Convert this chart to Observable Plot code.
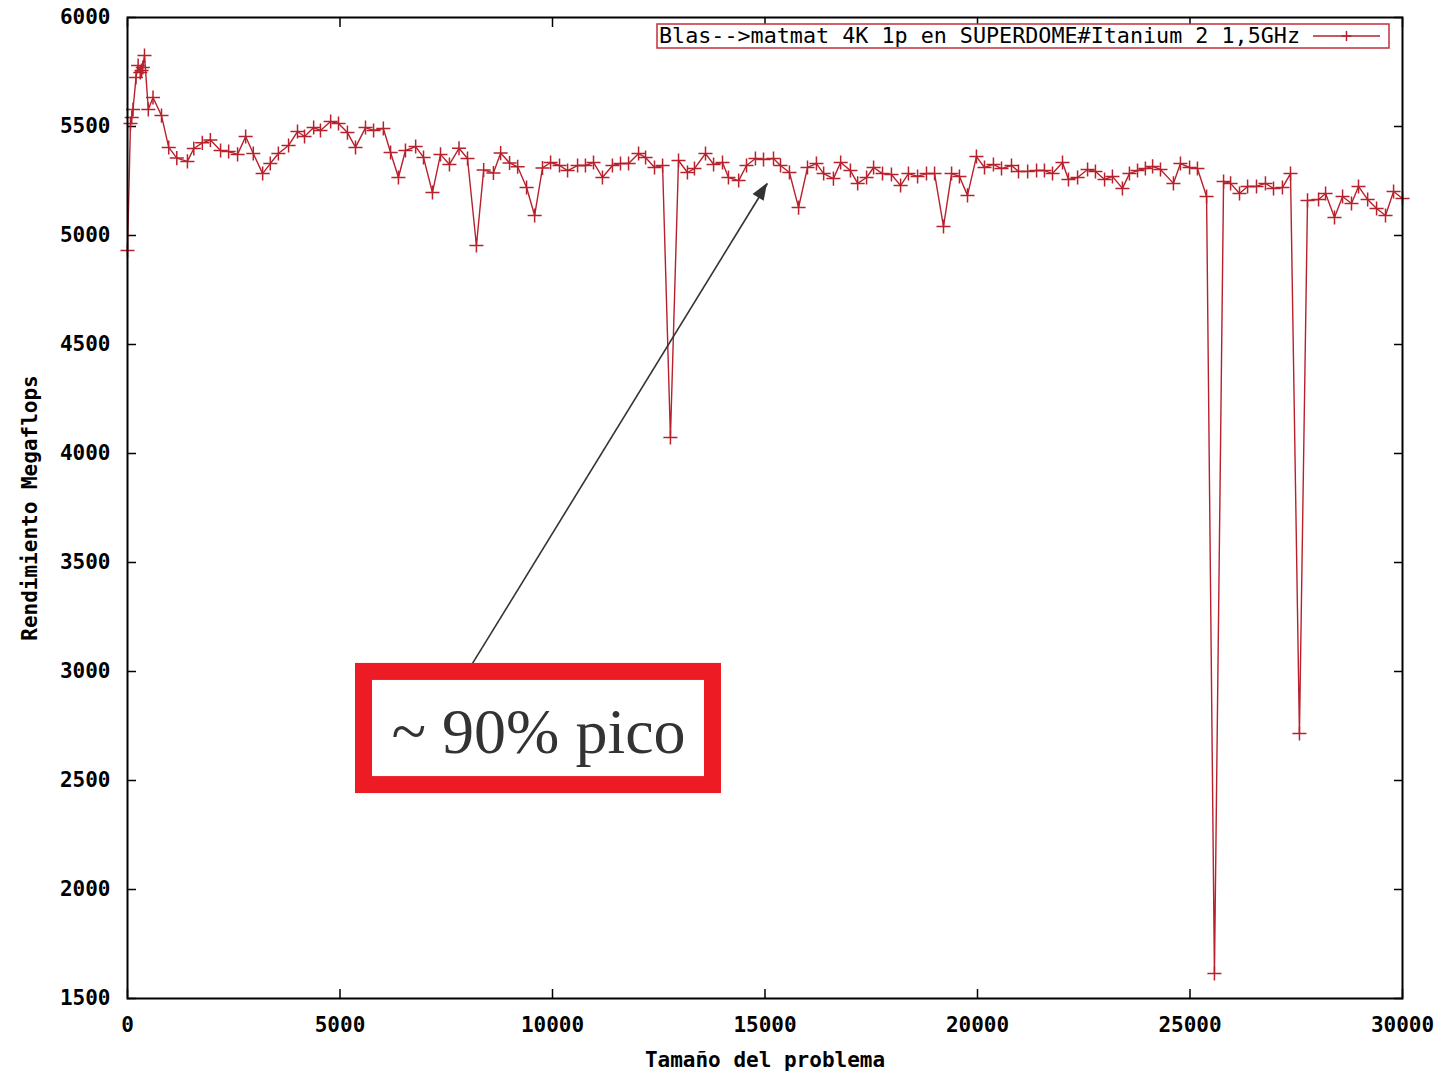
<!DOCTYPE html>
<html>
<head>
<meta charset="utf-8">
<script src="https://cdn.jsdelivr.net/npm/d3@7"></script>
<script src="https://cdn.jsdelivr.net/npm/@observablehq/plot@0.6"></script>
<style>
  html, body { margin: 0; padding: 0; background: #fff; overflow: hidden; }
</style>
</head>
<body>
<div id="chart"></div>
<script>
// ---- Data ----
const problemSize = [0, 70, 100, 130, 200, 250, 300, 330, 360, 400, 490, 600, 800, 970, 1160, 1410, 1560, 1760, 1950, 2190, 2380, 2590, 2780, 2960, 3180, 3360, 3550, 3790, 4000, 4165, 4380, 4540, 4780, 4965, 5175, 5365, 5600, 5790, 6020, 6190, 6375, 6540, 6780, 6965, 7175, 7365, 7575, 7800, 8000, 8210, 8380, 8610, 8780, 8990, 9180, 9390, 9580, 9765, 9955, 10165, 10355, 10590, 10775, 10965, 11175, 11410, 11600, 11790, 12025, 12190, 12400, 12590, 12775, 12965, 13175, 13340, 13600, 13790, 14000, 14140, 14380, 14565, 14775, 14965, 15200, 15365, 15575, 15790, 16000, 16210, 16380, 16610, 16780, 17010, 17180, 17390, 17555, 17765, 17975, 18190, 18375, 18590, 18800, 18990, 19200, 19390, 19575, 19765, 19975, 20165, 20375, 20565, 20800, 20965, 21180, 21390, 21575, 21765, 22000, 22140, 22355, 22590, 22775, 22990, 23175, 23410, 23575, 23765, 23950, 24120, 24305, 24610, 24775, 24990, 25175, 25390, 25575, 25790, 25955, 26165, 26355, 26565, 26775, 26965, 27175, 27365, 27575, 27765, 28025, 28190, 28400, 28590, 28800, 28965, 29180, 29390, 29600, 29790, 30000];
const megaflops = [4931, 5514, 5541, 5578, 5725, 5780, 5748, 5757, 5771, 5826, 5578, 5633, 5550, 5404, 5355, 5340, 5399, 5425, 5438, 5390, 5385, 5372, 5454, 5376, 5284, 5330, 5376, 5413, 5477, 5454, 5495, 5482, 5523, 5514, 5472, 5404, 5495, 5482, 5491, 5381, 5266, 5390, 5408, 5358, 5197, 5372, 5326, 5400, 5353, 4954, 5300, 5287, 5378, 5333, 5315, 5220, 5092, 5310, 5335, 5321, 5298, 5321, 5321, 5335, 5266, 5321, 5330, 5330, 5376, 5358, 5312, 5321, 4073, 5344, 5289, 5307, 5376, 5326, 5335, 5266, 5252, 5321, 5353, 5349, 5353, 5321, 5289, 5128, 5312, 5330, 5284, 5261, 5335, 5298, 5239, 5266, 5312, 5284, 5280, 5229, 5284, 5271, 5284, 5284, 5041, 5284, 5271, 5184, 5362, 5312, 5326, 5307, 5321, 5294, 5294, 5298, 5298, 5284, 5335, 5257, 5266, 5303, 5294, 5257, 5271, 5216, 5284, 5298, 5307, 5317, 5303, 5239, 5330, 5312, 5307, 5179, 1615, 5248, 5239, 5193, 5225, 5225, 5239, 5216, 5220, 5284, 2716, 5161, 5165, 5193, 5083, 5179, 5147, 5225, 5165, 5124, 5092, 5202, 5170];
const xTicks = [0, 5000, 10000, 15000, 20000, 25000, 30000];
const yTicks = [1500, 2000, 2500, 3000, 3500, 4000, 4500, 5000, 5500, 6000];
const seriesName = "Blas-->matmat 4K 1p en SUPERDOME#Itanium 2 1,5GHz";
const xLabel = "Tamaño del problema";
const yLabel = "Rendimiento Megaflops";
const noteText = "~ 90% pico";
// annotation anchors, in data units
const noteBox = [{x1: 5565, x2: 13776, y1: 2479, y2: 2998}];
const noteLabel = [{x: 9671, y: 2722, text: noteText}];
const noteArrow = {x1: 8118, y1: 3037, x2: 15059, y2: 5239};

(function () {
const data = problemSize.map((s, i) => ({size: s, mflops: megaflops[i]}));

const lineColor = "#b8202c";
const mono = "'DejaVu Sans Mono', 'Liberation Mono', monospace";
const W = 1448, H = 1075, mL = 127, mR = 46, mT = 17, mB = 77;
const plain = d => String(d);

const plot = Plot.plot({
  width: W,
  height: H,
  marginLeft: mL,
  marginRight: mR,
  marginTop: mT,
  marginBottom: mB,
  style: {fontFamily: mono, fontSize: "21px", fontWeight: "bold", color: "black", background: "white"},
  x: {domain: [0, 30000]},
  y: {domain: [1500, 6000]},
  marks: [
    Plot.axisY(yTicks, {anchor: "left", tickSize: 0, tickPadding: 17, tickFormat: plain, label: yLabel, labelAnchor: "center", labelArrow: "none", labelOffset: 105, fontSize: 21}),
    Plot.axisY(yTicks, {anchor: "left", tickSize: -9, text: null, label: null, strokeWidth: 1.5}),
    Plot.axisY(yTicks, {anchor: "right", tickSize: -9, text: null, label: null, strokeWidth: 1.5}),
    Plot.axisX(xTicks, {anchor: "bottom", tickSize: 0, tickPadding: 19, tickFormat: plain, label: xLabel, labelAnchor: "center", labelArrow: "none", labelOffset: 68, fontSize: 21}),
    Plot.axisX(xTicks, {anchor: "bottom", tickSize: -9, text: null, label: null, strokeWidth: 1.5}),
    Plot.axisX(xTicks, {anchor: "top", tickSize: -9, text: null, label: null, strokeWidth: 1.5}),
    Plot.line(data, {x: "size", y: "mflops", stroke: lineColor, strokeWidth: 1.4}),
    Plot.dot(data, {x: "size", y: "mflops", symbol: "plus", r: 4.6, stroke: lineColor, strokeWidth: 1.5}),
    Plot.link([noteArrow], {x1: "x1", y1: "y1", x2: "x2", y2: "y2", stroke: "#333", strokeWidth: 1.6}),
    Plot.rect(noteBox, {x1: "x1", x2: "x2", y1: "y1", y2: "y2", fill: "white", stroke: "#ed1c24", strokeWidth: 17}),
    Plot.text(noteLabel, {x: "x", y: "y", text: "text", fontFamily: "'Liberation Serif', 'Times New Roman', serif", fontSize: 64, fontWeight: "normal", fill: "#333", textAnchor: "middle", lineAnchor: "middle"}),
    Plot.frame({stroke: "black", strokeWidth: 2})
  ]
});

document.getElementById("chart").appendChild(plot);

// ---- Arrow head (filled) ----
const sx = plot.scale("x"), sy = plot.scale("y");
const ax1 = sx.apply(noteArrow.x1), ay1 = sy.apply(noteArrow.y1);
const ax2 = sx.apply(noteArrow.x2), ay2 = sy.apply(noteArrow.y2);
const len = Math.hypot(ax2 - ax1, ay2 - ay1);
const ux = (ax2 - ax1) / len, uy = (ay2 - ay1) / len;
const hl = 17, hw = 6.5;
const bx = ax2 - ux * hl, by = ay2 - uy * hl;
const svg = d3.select(plot);
svg.append("path")
  .attr("d", `M${ax2},${ay2}L${bx - uy * hw},${by + ux * hw}L${bx + uy * hw},${by - ux * hw}Z`)
  .attr("fill", "#333");

// ---- Legend (inside plot, top right, gnuplot style) ----
const frameRight = W - mR;
const boxX = 657, boxW = frameRight - 13 - 657, boxY = mT + 7, boxH = 24;
const lg = svg.append("g");
lg.append("rect").attr("x", boxX).attr("y", boxY).attr("width", boxW).attr("height", boxH)
  .attr("fill", "white").attr("stroke", "#c0303a").attr("stroke-width", 1.5);
lg.append("text").attr("x", boxX + 2).attr("y", boxY + 19)
  .attr("text-anchor", "start")
  .attr("font-family", mono).attr("font-size", 21).attr("font-weight", "normal")
  .attr("textLength", 641).attr("lengthAdjust", "spacingAndGlyphs")
  .attr("fill", "black").text(seriesName);
const sampleX1 = 1313, sampleX2 = 1380, sampleY = boxY + 12;
lg.append("line").attr("x1", sampleX1).attr("x2", sampleX2).attr("y1", sampleY).attr("y2", sampleY)
  .attr("stroke", lineColor).attr("stroke-width", 1.4);
const mx = (sampleX1 + sampleX2) / 2;
lg.append("path").attr("d", `M${mx - 5},${sampleY}H${mx + 5}M${mx},${sampleY - 5}V${sampleY + 5}`)
  .attr("stroke", lineColor).attr("stroke-width", 1.5);
})();
</script>
</body>
</html>
